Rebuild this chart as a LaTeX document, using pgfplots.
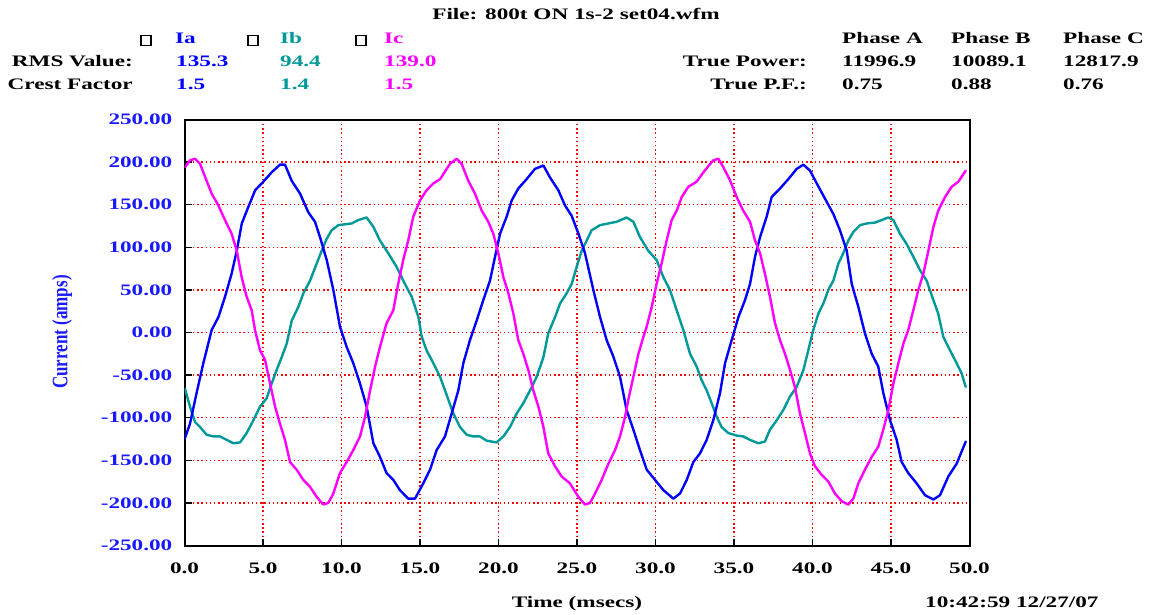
\documentclass[border=0pt]{standalone}
\usepackage{pgfplots}
\pgfplotsset{compat=1.18}
\usepackage{fontspec}
\setmainfont{Liberation Serif}[FakeStretch=1.45]
\newfontfamily\rotfont{Liberation Serif}

\definecolor{ia}{RGB}{0,0,255}
\definecolor{ib}{RGB}{0,153,153}
\definecolor{ic}{RGB}{255,0,255}
\definecolor{lblue}{RGB}{25,25,255}
\definecolor{gridred}{RGB}{255,0,0}
\newcommand\tf{\fontsize{16}{19}\selectfont\bfseries}

\pgfplotsset{
  every axis grid/.style={draw=gridred, color=gridred, line width=1.5pt, dash pattern=on 1.5pt off 2.7pt},
}

\begin{document}
\begin{tikzpicture}[x=1pt,y=1pt]
\useasboundingbox (0,0) rectangle (1151,614);
\begin{axis}[
  at={(184.5pt,68.5pt)}, anchor=south west,
  scale only axis, width=785pt, height=426pt,
  xmin=0, xmax=50, ymin=-250, ymax=250,
  xtick={0,5,...,50},
  xticklabels={0.0,5.0,10.0,15.0,20.0,25.0,30.0,35.0,40.0,45.0,50.0},
  ytick={-250,-200,...,250},
  yticklabels={-250.00,-200.00,-150.00,-100.00,-50.00,0.00,50.00,100.00,150.00,200.00,250.00},
  tick pos=left, tick align=inside,
  major tick length=7pt,
  axis line style={black, line width=2pt},
  xmajorgrids=true, ymajorgrids=true,
  major grid style={draw=gridred, line width=1.5pt, dash pattern=on 1.5pt off 2.7pt},
  major tick style={draw=black, line width=1.4pt},
  xticklabel style={font=\tf, anchor=base, inner sep=0pt, yshift=-27.5pt},
  yticklabel style={font=\tf, text=lblue, anchor=east, inner sep=0pt, xshift=-12pt},
  every axis plot/.append style={line join=round, line cap=round},
  clip=true,
]
% Ib (teal)
\addplot[ib, line width=2.4pt] coordinates {
(0.03,-66) (0.35,-87) (0.67,-105) (0.99,-111) (1.41,-120) (1.84,-122) (2.26,-122)
(2.69,-126) (3.11,-130) (3.54,-129) (3.96,-118) (4.39,-103) (4.81,-87) (5.24,-77)
(5.55,-60) (5.87,-44) (6.19,-29) (6.51,-13) (6.83,14) (7.25,30) (7.57,46) (8.0,61)
(8.42,81) (8.74,96) (9.06,110) (9.37,120) (9.8,126) (10.22,127) (10.65,128)
(11.07,132) (11.6,135) (12.03,124) (12.45,108) (12.98,93) (13.51,77) (14.04,57)
(14.47,42) (14.9,18) (15.11,-5) (15.42,-21) (15.85,-36) (16.28,-52) (16.81,-79)
(17.12,-95) (17.55,-111) (17.97,-120) (18.4,-122) (18.82,-122) (19.25,-127)
(19.88,-129) (20.31,-122) (20.73,-111) (21.16,-95) (21.58,-83) (22.01,-68)
(22.43,-52) (22.86,-29) (23.17,-1) (23.6,18) (23.92,34) (24.34,46) (24.66,57)
(24.98,77) (25.3,96) (25.62,108) (25.93,120) (26.47,126) (27.0,128) (27.53,130)
(28.16,135) (28.59,130) (29.01,112) (29.54,96) (30.07,85) (30.5,65) (30.92,50)
(31.35,26) (31.77,3) (32.2,-25) (32.62,-40) (32.94,-56) (33.26,-68) (33.58,-83)
(33.9,-99) (34.21,-111) (34.64,-118) (35.17,-121) (35.59,-122) (36.02,-126)
(36.55,-130) (36.97,-128) (37.29,-114) (37.72,-103) (38.14,-91) (38.57,-75)
(38.99,-64) (39.42,-44) (39.73,-21) (40.05,3) (40.37,22) (40.69,34) (41.01,50)
(41.33,61) (41.65,81) (41.96,93) (42.28,108) (42.6,118) (43.03,126) (43.45,128)
(43.98,129) (44.41,132) (44.83,135) (45.15,132) (45.57,116) (45.99,104) (46.42,89)
(46.85,73) (47.27,61) (47.7,38) (48.01,22) (48.33,-5) (48.76,-21) (49.18,-36)
(49.5,-48) (49.76,-64)
};
% Ia (blue)
\addplot[ia, line width=2.4pt] coordinates {
(0.03,-124) (0.35,-107) (0.77,-71) (1.2,-36) (1.73,3) (2.16,18) (2.58,42) (3.0,69)
(3.33,96) (3.65,128) (3.97,143) (4.5,167) (5.02,177) (5.55,188) (6.08,197) (6.4,197)
(6.83,178) (7.36,163) (7.89,141) (8.31,130) (8.63,112) (9.06,85) (9.48,50) (9.9,7)
(10.33,-17) (10.75,-36) (11.18,-60) (11.6,-87) (12.03,-130) (12.45,-146)
(12.87,-165) (13.3,-173) (13.72,-185) (14.25,-195) (14.68,-195) (15.21,-177)
(15.64,-161) (16.06,-138) (16.59,-122) (17.02,-95) (17.44,-68) (17.76,-36)
(18.18,-9) (18.61,14) (19.03,38) (19.46,61) (19.78,89) (20.1,116) (20.52,136)
(20.84,155) (21.26,169) (21.79,180) (22.32,192) (22.86,196) (23.28,182)
(23.81,167) (24.24,149) (24.66,137) (25.09,116) (25.51,93) (26.04,50) (26.47,18)
(26.89,-9) (27.31,-28) (27.74,-52) (28.16,-91) (28.59,-114) (29.01,-138)
(29.44,-161) (29.97,-173) (30.5,-185) (31.14,-195) (31.56,-189) (31.99,-173)
(32.41,-152) (32.83,-142) (33.26,-126) (33.68,-103) (34.11,-71) (34.43,-36)
(34.85,-9) (35.28,18) (35.7,38) (36.02,57) (36.34,89) (36.66,112) (37.08,136)
(37.4,159) (37.93,169) (38.46,180) (38.99,192) (39.42,197) (39.84,190) (40.27,175)
(40.8,157) (41.33,139) (41.75,120) (42.18,96) (42.5,57) (42.92,30) (43.34,-1)
(43.77,-25) (44.19,-40) (44.51,-71) (44.94,-103) (45.36,-126) (45.68,-152)
(46.1,-165) (46.63,-177) (47.17,-191) (47.7,-196) (48.12,-191) (48.65,-169)
(49.18,-154) (49.76,-128)
};
% Ic (magenta)
\addplot[ic, line width=2.4pt] coordinates {
(0.03,194) (0.35,202) (0.67,204) (0.99,198) (1.41,178) (1.73,163) (2.16,149)
(2.58,132) (3.0,116) (3.33,96) (3.64,65) (3.96,42) (4.28,26) (4.49,3) (4.81,-21)
(5.13,-32) (5.45,-60) (5.77,-87) (6.08,-107) (6.4,-126) (6.72,-152) (7.14,-161)
(7.57,-173) (7.99,-181) (8.42,-193) (8.84,-202) (9.16,-200) (9.48,-189)
(9.9,-165) (10.33,-152) (10.75,-138) (11.18,-122) (11.5,-99) (11.82,-68)
(12.14,-40) (12.45,-17) (12.87,11) (13.3,26) (13.61,57) (13.93,85) (14.25,108)
(14.57,136) (15.0,155) (15.42,167) (15.85,175) (16.28,180) (16.91,198) (17.34,204)
(17.65,198) (18.08,178) (18.5,163) (18.93,143) (19.35,130) (19.67,116) (19.99,93)
(20.31,65) (20.63,46) (20.95,22) (21.26,-9) (21.58,-25) (21.9,-44) (22.22,-68)
(22.54,-87) (22.86,-111) (23.17,-142) (23.6,-157) (24.02,-169) (24.55,-177)
(25.09,-193) (25.51,-202) (25.83,-200) (26.15,-189) (26.57,-173) (27.0,-154)
(27.42,-138) (27.74,-122) (28.06,-99) (28.27,-79) (28.59,-52) (28.91,-25)
(29.23,-5) (29.44,7) (29.76,30) (30.07,57) (30.39,81) (30.71,108) (31.03,132)
(31.35,143) (31.67,159) (32.09,171) (32.62,177) (33.05,188) (33.4,196) (33.68,202)
(34.0,204) (34.32,194) (34.74,179) (35.17,159) (35.59,143) (36.02,130) (36.34,108)
(36.66,93) (36.97,69) (37.29,42) (37.61,11) (37.93,-9) (38.25,-25) (38.57,-44)
(38.88,-64) (39.2,-95) (39.52,-118) (39.84,-142) (40.16,-157) (40.58,-167)
(41.01,-175) (41.43,-189) (41.86,-198) (42.28,-202) (42.6,-195) (42.92,-177)
(43.34,-161) (43.77,-146) (44.19,-134) (44.51,-114) (44.83,-91) (45.15,-60)
(45.47,-36) (45.79,-13) (46.1,3) (46.42,26) (46.74,50) (47.06,69) (47.38,96)
(47.7,124) (48.01,143) (48.44,159) (48.86,171) (49.29,177) (49.76,190)
};
\end{axis}

% y axis label
\node[rotate=90, text=lblue, inner sep=0pt] at (62,282)
  {\scalebox{1}[1.3]{\rotfont\fontsize{17}{20}\selectfont\bfseries Current (amps)}};
% bottom texts
\node[anchor=base, inner sep=0pt] at (577,7) {\tf Time (msecs)};
\node[anchor=base west, inner sep=0pt] at (925,7) {\tf 10:42:59 12/27/07};

% header
\node[anchor=base, inner sep=0pt] at (576,594) {\tf File: 800t ON 1s-2 set04.wfm};
\draw[line width=1.4pt] (141,568.5) rectangle (151,578.5);
\draw[line width=1.4pt] (248,568.5) rectangle (258,578.5);
\draw[line width=1.4pt] (356,568.5) rectangle (366,578.5);
\node[anchor=base west, inner sep=0pt, text=ia] at (175,570) {\tf Ia};
\node[anchor=base west, inner sep=0pt, text=ib] at (280,570) {\tf Ib};
\node[anchor=base west, inner sep=0pt, text=ic] at (384,570) {\tf Ic};

\node[anchor=base east, inner sep=0pt] at (133,547) {\tf RMS Value:};
\node[anchor=base west, inner sep=0pt, text=ia] at (176,547) {\tf 135.3};
\node[anchor=base west, inner sep=0pt, text=ib] at (280,547) {\tf 94.4};
\node[anchor=base west, inner sep=0pt, text=ic] at (384,547) {\tf 139.0};

\node[anchor=base east, inner sep=0pt] at (133,524) {\tf Crest Factor};
\node[anchor=base west, inner sep=0pt, text=ia] at (176,524) {\tf 1.5};
\node[anchor=base west, inner sep=0pt, text=ib] at (280,524) {\tf 1.4};
\node[anchor=base west, inner sep=0pt, text=ic] at (384,524) {\tf 1.5};

\node[anchor=base west, inner sep=0pt] at (842,570) {\tf Phase A};
\node[anchor=base west, inner sep=0pt] at (951,570) {\tf Phase B};
\node[anchor=base west, inner sep=0pt] at (1063,570) {\tf Phase C};

\node[anchor=base east, inner sep=0pt] at (807,547) {\tf True Power:};
\node[anchor=base west, inner sep=0pt] at (842,547) {\tf 11996.9};
\node[anchor=base west, inner sep=0pt] at (951,547) {\tf 10089.1};
\node[anchor=base west, inner sep=0pt] at (1063,547) {\tf 12817.9};

\node[anchor=base east, inner sep=0pt] at (807,524) {\tf True P.F.:};
\node[anchor=base west, inner sep=0pt] at (842,524) {\tf 0.75};
\node[anchor=base west, inner sep=0pt] at (951,524) {\tf 0.88};
\node[anchor=base west, inner sep=0pt] at (1063,524) {\tf 0.76};
\end{tikzpicture}
\end{document}
